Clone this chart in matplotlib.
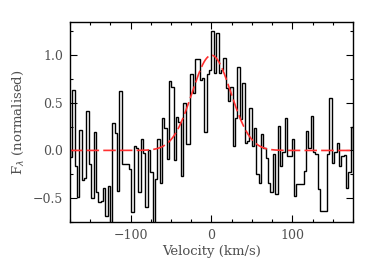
import numpy as np
import matplotlib.pyplot as plt

# spectrum flux per velocity bin (left to right)
flux = [-0.07, 0.63, -0.16, -0.49, 0.21, -0.31, -0.29, 0.41, -0.14, -0.50,
        0.19, -0.44, -0.54, -0.53, -0.39, -0.69, -0.37, -0.76, 0.29, 0.18,
        -0.43, 0.62, -0.14, -0.14, -0.14, -0.19, -0.65, 0.05, 0.03, -0.44,
        0.12, -0.03, -0.59, 0.00, -0.23, -0.76, -0.30, 0.12, -0.34, 0.34,
        0.24, -0.09, 0.73, 0.67, -0.10, 0.35, 0.30, -0.27, 0.50, 0.07,
        0.07, 0.80, 0.60, 0.96, 0.96, 0.74, 0.76, 0.19, 0.80, 0.85,
        1.25, 0.81, 1.23, 0.81, 0.85, 0.97, 0.66, 0.52, 0.67, 0.05,
        0.34, 0.88, 0.33, 0.71, 0.08, 0.10, 0.45, 0.05, 0.24, -0.25,
        -0.34, 0.17, 0.03, -0.08, -0.34, -0.44, -0.04, -0.46, 0.26, -0.16,
        -0.02, 0.34, -0.06, -0.06, 0.12, -0.48, -0.35, -0.35, -0.35, -0.22,
        0.20, 0.03, 0.36, -0.02, -0.04, -0.41, -0.64, -0.64, -0.64, -0.04,
        0.55, -0.13, -0.02, 0.08, -0.16, -0.06, -0.05, -0.39, -0.23, 0.25]
v_min, v_max = -175, 175

# gaussian fit
fit_amp = 1.0
fit_center = 0.0
fit_sigma = 24.0

edges = np.linspace(v_min, v_max, len(flux) + 1)
v_fit = np.linspace(v_min, v_max, 600)
g_fit = fit_amp * np.exp(-(v_fit - fit_center) ** 2 / (2 * fit_sigma ** 2))

plt.rcParams['font.family'] = 'DejaVu Serif'
plt.rcParams['lines.scale_dashes'] = False

fig = plt.figure(figsize=(3.74, 2.67), dpi=100)
ax = fig.add_axes([0.187, 0.169, 0.757, 0.749])

ax.stairs(flux, edges, color='black', linewidth=1.0)
ax.plot(v_fit, g_fit, color='#ff3030', linewidth=1.2, dashes=(9, 3))

ax.set_xlim(v_min, v_max)
ax.set_ylim(-0.75, 1.35)
ax.set_xticks([-100, 0, 100])
ax.set_xticks(np.arange(-175, 176, 25), minor=True)
ax.set_yticks([-0.5, 0.0, 0.5, 1.0])
ax.set_yticks(np.arange(-0.75, 1.36, 0.25), minor=True)
ax.tick_params(which='both', direction='in', top=True, right=True,
               labelsize=9, labelcolor='#505050', width=0.8)
ax.tick_params(which='major', length=5, pad=5)
ax.tick_params(which='minor', length=2.5)
for s in ax.spines.values():
    s.set_linewidth(1.0)

ax.set_xlabel('Velocity (km/s)', fontsize=9.5, color='#505050', labelpad=2)
ax.set_ylabel(r'F$_\lambda$ (normalised)', fontsize=9.5, color='#505050', labelpad=5)

fig.savefig('out.png', dpi=100)
